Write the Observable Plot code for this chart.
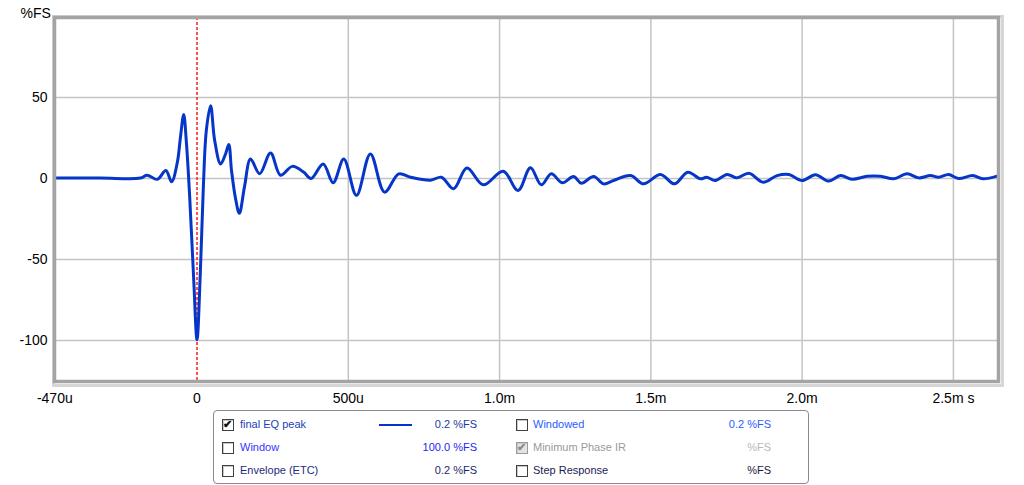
<!DOCTYPE html>
<html>
<head>
<meta charset="utf-8">
<script src="https://cdn.jsdelivr.net/npm/d3@7"></script>
<script src="https://cdn.jsdelivr.net/npm/@observablehq/plot@0.6"></script>
<style>
  html, body { margin: 0; padding: 0; background: #fff; }
  #wrap { position: relative; width: 1024px; height: 485px; overflow: hidden; font-family: "Liberation Sans", Arial, sans-serif; }
  #legend { position: absolute; left: 213px; top: 410px; width: 596px; height: 74px; border: 1px solid #8a8a8a; border-radius: 4px; box-sizing: border-box; font-size: 11px; }
  .it { position: absolute; white-space: nowrap; line-height: 13px; }
  .cb { position: absolute; width: 10px; height: 10px; border: 1px solid #404040; background: #fff; box-shadow: inset 1px 1px 0 #c8c8c8; }
  .cb span { position: absolute; left: 0px; top: -2px; font-size: 11px; line-height: 13px; font-weight: bold; }
  .val { text-align: right; width: 90px; }
</style>
</head>
<body>
<div id="wrap"></div>
<script>
// time in microseconds, value in %FS
const times = [-471,-319,-187,-165,-131,-103,-84,-65,-55,-44,-35,-24,-11,0,11,21,31,45,58,78,94,105,114,127,140,157,177,207,243,276,315,352,377,417,450,485,527,573,620,667,706,772,808,848,892,946,1012,1061,1102,1138,1171,1207,1245,1270,1311,1344,1377,1433,1476,1532,1578,1622,1664,1684,1713,1752,1785,1824,1871,1917,1956,2000,2044,2088,2127,2165,2215,2259,2303,2347,2385,2424,2451,2484,2517,2564,2597,2649];
const values = [0.3,0.3,0.3,2,-0.5,5,-2,10,25,39.5,22,-12,-62,-99.5,-58,-5,30,45,24,9,15,21,5,-12,-21.5,-5,12,3,15.8,2,7.5,4,0,9,-2.6,12,-10.4,15.2,-8.4,2.9,0.8,-1,0.8,-6.3,6.5,-3.9,4.5,-7.4,6.6,-3.9,2.9,-2.6,1.2,-2.9,1.2,-3.3,-1.2,1.8,-3.3,2.5,-3.3,3.9,-0.2,0.8,-1.2,2.5,0.4,3.3,-2.3,1.8,2.5,-1.2,2.3,-1.6,1.8,-0.4,1.4,1.4,-0.2,2.9,0.4,1.8,0.8,2.5,0,1.8,-0.2,1.8];
const xTicks = [-470, 0, 500, 1000, 1500, 2000, 2500];
const xTickLabels = ["-470u", "0", "500u", "1.0m", "1.5m", "2.0m", "2.5m s"];
const xGrid = [500, 1000, 1500, 2000, 2500];
const yTicks = [50, 0, -50, -100];
const yTickLabels = ["50", "0", "-50", "-100"];
const yUnit = "%FS";
const markerX = [0];

const legendRows = [
  {col: 0, row: 0, checked: true,  label: "final EQ peak", color: "#1c3fb8", value: "0.2 %FS", vcolor: "#1c3a9c", line: true},
  {col: 0, row: 1, checked: false, label: "Window", color: "#3535ff", value: "100.0 %FS", vcolor: "#2626f0"},
  {col: 0, row: 2, checked: false, label: "Envelope (ETC)", color: "#1c2c7c", value: "0.2 %FS", vcolor: "#1c2a6a"},
  {col: 1, row: 0, checked: false, label: "Windowed", color: "#2a5cff", value: "0.2 %FS", vcolor: "#2a5cff"},
  {col: 1, row: 1, checked: true,  label: "Minimum Phase IR", color: "#9a9a9a", value: "%FS", vcolor: "#b8b8b8", disabled: true},
  {col: 1, row: 2, checked: false, label: "Step Response", color: "#1a1a55", value: "%FS", vcolor: "#1a1a3a"}
];

const data = times.map((t, i) => ({t, v: values[i]}));
const fmtX = new Map(xTicks.map((t, i) => [t, xTickLabels[i]]));
const fmtY = new Map(yTicks.map((t, i) => [t, yTickLabels[i]]));

const chart = Plot.plot({
  width: 1024,
  height: 485,
  marginLeft: 54,
  marginRight: 26,
  marginTop: 17,
  marginBottom: 104,
  style: {fontFamily: "'Liberation Sans', Arial, sans-serif", fontSize: "14px", color: "#000", background: "transparent"},
  x: {domain: [-471, 2649], ticks: xTicks, tickFormat: d => fmtX.get(d), tickSize: 0, tickPadding: 12, label: null},
  y: {domain: [-125.3, 99.4], ticks: yTicks, tickFormat: d => fmtY.get(d), tickSize: 0, tickPadding: 7, label: null},
  marks: [
    Plot.frame({stroke: "#d6d6d6", strokeWidth: 3, insetLeft: -1, insetTop: -1, insetRight: -4, insetBottom: -4}),
    Plot.gridX(xGrid, {stroke: "#c4c4c4", strokeOpacity: 1, strokeWidth: 1.5}),
    Plot.gridY(yTicks, {stroke: "#c4c4c4", strokeOpacity: 1, strokeWidth: 1.5}),
    Plot.ruleX(markerX, {stroke: "#ff1a1a", strokeWidth: 1.5, strokeDasharray: "3,2"}),
    Plot.line(data, {x: "t", y: "v", stroke: "#0636c8", strokeWidth: 3, curve: "catmull-rom"}),
    Plot.frame({stroke: "#a4a4a4", strokeWidth: 3.5}),
    Plot.text([yUnit], {text: d => d, frameAnchor: "top-left", dx: -34, dy: -9, textAnchor: "start", fontSize: 14, fill: "#000"})
  ]
});
const wrap = document.getElementById("wrap");
wrap.appendChild(chart);

const legend = document.createElement("div");
legend.id = "legend";
const rowY = [7, 30, 53];
const colCb = [8, 302];
const colText = [26, 319];
const colValEnd = [263, 557];
for (const r of legendRows) {
  const cb = document.createElement("div");
  cb.className = "cb";
  cb.style.left = colCb[r.col] + "px";
  cb.style.top = (rowY[r.row] + 1) + "px";
  if (r.disabled) { cb.style.background = "#e4e4e4"; cb.style.borderColor = "#9a9a9a"; }
  if (r.checked) {
    const s = document.createElement("span");
    s.textContent = "\u2714";
    s.style.color = r.disabled ? "#8a8a8a" : "#111";
    cb.appendChild(s);
  }
  legend.appendChild(cb);
  const t = document.createElement("div");
  t.className = "it";
  t.style.left = colText[r.col] + "px";
  t.style.top = rowY[r.row] + "px";
  t.style.color = r.color;
  t.textContent = r.label;
  legend.appendChild(t);
  const v = document.createElement("div");
  v.className = "it val";
  v.style.left = (colValEnd[r.col] - 90) + "px";
  v.style.top = rowY[r.row] + "px";
  v.style.color = r.vcolor;
  v.textContent = r.value;
  legend.appendChild(v);
  if (r.line) {
    const l = document.createElement("div");
    l.style.position = "absolute";
    l.style.left = "165px";
    l.style.width = "33px";
    l.style.top = (rowY[r.row] + 6) + "px";
    l.style.height = "2px";
    l.style.background = "#0636c8";
    legend.appendChild(l);
  }
}
wrap.appendChild(legend);
</script>
</body>
</html>
